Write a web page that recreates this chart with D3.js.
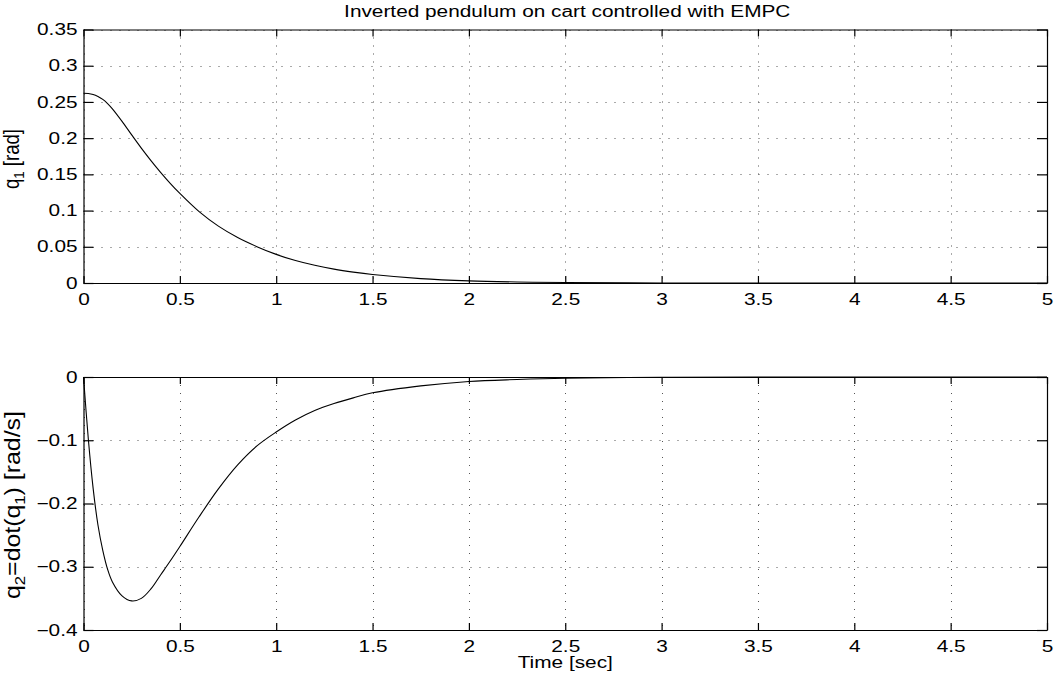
<!DOCTYPE html>
<html>
<head>
<meta charset="utf-8">
<script src="https://cdn.jsdelivr.net/npm/d3@7"></script>
<style>
  html, body { margin: 0; padding: 0; background: #fff; }
  svg { display: block; }
  text { font-family: "Liberation Sans", Arial, Helvetica, sans-serif; fill: #000; }
</style>
</head>
<body>
<svg id="chart" width="1055" height="680"></svg>
<script>
// ---- data ----
const titleText = "Inverted pendulum on cart controlled with EMPC";
const xLabelText = "Time [sec]";
const time = [0, 0.025, 0.05, 0.075, 0.1, 0.125, 0.15, 0.2, 0.25, 0.3, 0.35, 0.4, 0.45, 0.5,
              0.6, 0.7, 0.8, 0.9, 1.0, 1.1, 1.2, 1.3, 1.4, 1.5, 1.75, 2.0, 2.25, 2.5,
              3.0, 3.5, 4.0, 4.5, 5.0];
const q1 = [0.262, 0.2617, 0.2603, 0.2575, 0.2535, 0.2478, 0.2405, 0.2232, 0.2045, 0.1862, 0.1690, 0.1528, 0.1376, 0.1236,
            0.0985, 0.0785, 0.0628, 0.0502, 0.0395, 0.0310, 0.0244, 0.0191, 0.0150, 0.0117, 0.0061, 0.0030, 0.0014, 0.0006,
            0.0001, 0, 0, 0, 0];
const q2 = [0, -0.098, -0.176, -0.234, -0.274, -0.304, -0.324, -0.346, -0.354, -0.350, -0.335, -0.313, -0.291, -0.268,
            -0.221, -0.177, -0.139, -0.109, -0.087, -0.068, -0.053, -0.042, -0.033, -0.025, -0.014, -0.007, -0.004, -0.002,
            -0.0005, -0.0001, 0, 0, 0];
const xTicks = [0, 0.5, 1, 1.5, 2, 2.5, 3, 3.5, 4, 4.5, 5];
const xTickLabels = ["0", "0.5", "1", "1.5", "2", "2.5", "3", "3.5", "4", "4.5", "5"];
const y1Ticks = [0, 0.05, 0.1, 0.15, 0.2, 0.25, 0.3, 0.35];
const y1TickLabels = ["0", "0.05", "0.1", "0.15", "0.2", "0.25", "0.3", "0.35"];
const y2Ticks = [0, -0.1, -0.2, -0.3, -0.4];
const y2TickLabels = ["0", "\u22120.1", "\u22120.2", "\u22120.3", "\u22120.4"];

// ---- layout ----
const svg = d3.select("#chart");
const X0 = 83.5, X1 = 1047;
const STRETCH = 1.3;
const FONT = 16;

const x = d3.scaleLinear().domain([0, 5]).range([X0, X1]);

function panel(top, bottom, yDomain, yTicks, yTickLabels, values) {
  const y = d3.scaleLinear().domain(yDomain).range([bottom, top]);
  const g = svg.append("g");
  // grid
  g.append("g").selectAll("line").data(xTicks).join("line")
    .attr("x1", d => Math.round(x(d)) + 0.5).attr("x2", d => Math.round(x(d)) + 0.5)
    .attr("y1", top).attr("y2", bottom)
    .attr("stroke", "#555").attr("stroke-width", 1).attr("stroke-dasharray", "1,7");
  g.append("g").selectAll("line").data(yTicks).join("line")
    .attr("x1", X0).attr("x2", X1)
    .attr("y1", d => Math.round(y(d)) + 0.5).attr("y2", d => Math.round(y(d)) + 0.5)
    .attr("stroke", "#555").attr("stroke-width", 1).attr("stroke-dasharray", "1,8");

  // curve
  const line = d3.line().x((d, i) => x(time[i])).y(d => y(d)).curve(d3.curveCatmullRom.alpha(0.5));
  g.append("path").datum(values).attr("d", line)
    .attr("fill", "none").attr("stroke", "#000").attr("stroke-width", 1.1);

  // axes (MATLAB box style, inward ticks)
  const ax = g.append("g").attr("transform", `translate(0,${bottom})`)
    .call(d3.axisBottom(x).tickValues(xTicks).tickFormat((d, i) => xTickLabels[i])
      .tickSizeInner(-7).tickSizeOuter(0).tickPadding(10.5));
  const axTop = g.append("g").attr("transform", `translate(0,${top})`)
    .call(d3.axisTop(x).tickValues(xTicks).tickFormat("")
      .tickSizeInner(-7).tickSizeOuter(0));
  const ay = g.append("g").attr("transform", `translate(${X0},0)`)
    .call(d3.axisLeft(y).tickValues(yTicks).tickFormat((d, i) => yTickLabels[i])
      .tickSizeInner(-10).tickSizeOuter(0).tickPadding(6));
  const ayR = g.append("g").attr("transform", `translate(${X1},0)`)
    .call(d3.axisRight(y).tickValues(yTicks).tickFormat("")
      .tickSizeInner(-10).tickSizeOuter(0));
  [ax, axTop, ay, ayR].forEach(a => {
    a.selectAll("path.domain").attr("stroke", "#000").attr("stroke-width", 1.2);
    a.selectAll(".tick line").attr("stroke", "#000").attr("stroke-width", 1.2);
    a.selectAll("text").attr("font-size", FONT).attr("font-family", null).attr("fill", "#000")
      .classed("stretch", true);
  });
  return y;
}

const y1 = panel(29.5, 283, [0, 0.35], y1Ticks, y1TickLabels, q1);
const y2 = panel(377, 630, [-0.4, 0], y2Ticks, y2TickLabels, q2);

// title
svg.append("text").attr("class", "stretch")
  .attr("x", (X0 + X1) / 2 + 2).attr("y", 17).attr("text-anchor", "middle")
  .attr("font-size", FONT).text(titleText);

// x label
svg.append("text").attr("class", "stretch")
  .attr("x", (X0 + X1) / 2).attr("y", 668).attr("text-anchor", "middle")
  .attr("font-size", FONT).text(xLabelText);

// y labels (rotated, with subscripts)
const yl1 = svg.append("text")
  .attr("transform", `translate(19,159) scale(1.25,1) rotate(-90)`)
  .attr("text-anchor", "middle").attr("font-size", 17)
  .attr("textLength", 60).attr("lengthAdjust", "spacingAndGlyphs");
yl1.append("tspan").text("q");
yl1.append("tspan").attr("font-size", 12).attr("dy", 4).text("1");
yl1.append("tspan").attr("dy", -4).text(" [rad]");

const yl2 = svg.append("text")
  .attr("transform", `translate(20,505) scale(1.25,1) rotate(-90)`)
  .attr("text-anchor", "middle").attr("font-size", 18)
  .attr("textLength", 188).attr("lengthAdjust", "spacingAndGlyphs");
yl2.append("tspan").text("q");
yl2.append("tspan").attr("font-size", 12).attr("dy", 4).text("2");
yl2.append("tspan").attr("dy", -4).text("=dot(q");
yl2.append("tspan").attr("font-size", 12).attr("dy", 4).text("1");
yl2.append("tspan").attr("dy", -4).text(") [rad/s]");

// horizontal stretch of horizontal texts to match the reference's aspect
svg.selectAll("text.stretch").each(function() {
  const len = this.getComputedTextLength();
  if (len > 0) d3.select(this).attr("textLength", len * STRETCH).attr("lengthAdjust", "spacingAndGlyphs");
});
</script>
</body>
</html>
